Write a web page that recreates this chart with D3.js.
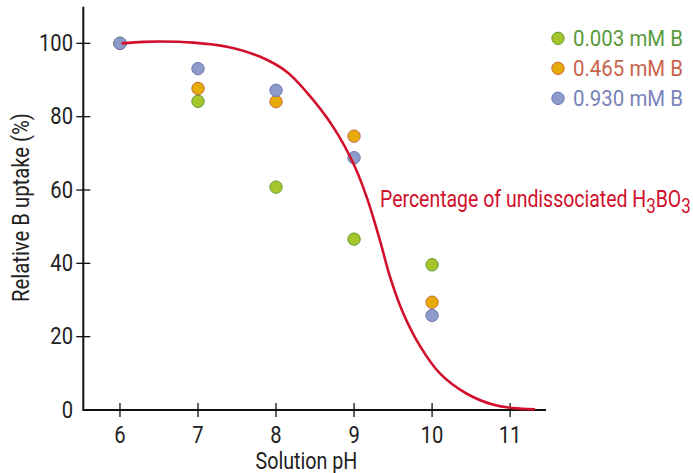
<!DOCTYPE html>
<html><head><meta charset="utf-8">
<script src="https://cdn.jsdelivr.net/npm/d3@7"></script>
<style>
body{margin:0;background:#fff;}
svg text{font-family:Roboto,"Noto Sans",sans-serif;font-weight:400;}
</style></head>
<body><svg id="c" width="693" height="473"></svg>
<script>
const xTicks = [6,7,8,9,10,11];
const yTicks = [0,20,40,60,80,100];
const seriesNames = ["0.003 mM B","0.465 mM B","0.930 mM B"];
const phValues = [6,7,8,9,10];
const lowB = [100,84.2,60.8,46.6,39.6];
const midB = [100,87.7,84.1,74.7,29.4];
const highB = [100,93.1,87.2,68.8,25.8];
const curvePH = [6.02,6.30,6.51,6.94,7.37,7.79,8.14,8.40,8.73,8.99,9.16,9.33,9.46,9.63,9.85,10.10,10.44,10.79,11.04,11.32];
const curveValue = [100,100.4,100.5,100.2,99.1,96.4,92.2,86.5,77.3,67.3,58.2,46.4,36.4,26.4,17.3,10.0,4.5,1.4,0.5,0.2];
const curveLabel = "Percentage of undissociated H";

const fills = ["#a6c52a","#e6ac0a","#8e9ccc"];
const strokes = ["#5f9a36","#c9683a","#6a78b4"];
const textCols = ["#5a9a3c","#c8644a","#7a82ba"];
const red = "#d2102c";
const FS = 23;

const svg = d3.select("#c");
const x = d3.scaleLinear().domain([5.53,11.46]).range([83.3,546]);
const y = d3.scaleLinear().domain([0,110]).range([410,6.7]);

function squeeze(sel, x0, s){ sel.attr("transform",`translate(${x0},0) scale(${s},1) translate(${-x0},0)`); }
function fitW(sel, x0, w){ const bw = sel.node().getBBox().width; squeeze(sel, x0, w/bw); return w/bw; }

// axes
const ax = svg.append("g").attr("stroke","#111").attr("stroke-width",2);
ax.append("line").attr("x1",x(5.53)).attr("x2",x(5.53)).attr("y1",y(110)).attr("y2",y(0)-1);
ax.append("line").attr("x1",x(5.53)-1).attr("x2",x(11.46)).attr("y1",y(0)).attr("y2",y(0));
ax.selectAll(".xt").data(xTicks).enter().append("line")
  .attr("x1",d=>x(d)).attr("x2",d=>x(d)).attr("y1",y(0)-7).attr("y2",y(0)+7).attr("stroke-width",1.3);
ax.selectAll(".yt").data(yTicks.filter(d=>d>0)).enter().append("line")
  .attr("x1",x(5.53)-7).attr("x2",x(5.53)+7).attr("y1",d=>y(d)).attr("y2",d=>y(d)).attr("stroke-width",1.3);

const yl = svg.selectAll(".yl").data(yTicks).enter().append("text")
  .attr("x",73).attr("y",d=>y(d)+7.7).attr("text-anchor","end")
  .attr("font-size",FS).attr("fill","#222").text(d=>d);
const s100 = 34 / yl.filter(d=>d===100).node().getBBox().width;
yl.each(function(){ squeeze(d3.select(this),73,s100); });
svg.selectAll(".xl").data(xTicks).enter().append("text")
  .attr("x",d=>x(d)).attr("y",443).attr("text-anchor","middle")
  .attr("font-size",FS).attr("fill","#222").text(d=>d)
  .each(function(d){ squeeze(d3.select(this),x(d),s100); });

const xt = svg.append("text").attr("x",x(8.39)).attr("y",469).attr("text-anchor","middle")
  .attr("font-size",FS).attr("fill","#222").text("Solution pH");
fitW(xt, x(8.39), 102);
const yt = svg.append("text").attr("x",0).attr("y",0).attr("text-anchor","middle")
  .attr("font-size",FS).attr("fill","#222").text("Relative B uptake (%)");
const sy = 189 / yt.node().getBBox().width;
yt.attr("transform",`translate(28.5,207.5) rotate(-90) scale(${sy},1)`);

// points
const series = [lowB, midB, highB];
series.forEach((vals,i)=>{
  svg.append("g").selectAll("circle").data(vals).enter().append("circle")
    .attr("cx",(d,j)=>x(phValues[j])).attr("cy",d=>y(d)).attr("r",6.2)
    .attr("fill",fills[i]).attr("stroke",strokes[i]).attr("stroke-width",1);
});

// curve
const line = d3.line().x((d,i)=>x(curvePH[i])).y(d=>y(d)).curve(d3.curveCatmullRom);
svg.append("path").datum(curveValue).attr("d",line).attr("fill","none")
  .attr("stroke",red).attr("stroke-width",2.6);

const lab = svg.append("text").attr("x",380).attr("y",207).attr("font-size",FS).attr("fill",red);
lab.append("tspan").text(curveLabel);
lab.append("tspan").attr("dy",6).attr("font-size",FS-3).text("3");
lab.append("tspan").attr("dy",-6).text("BO");
lab.append("tspan").attr("dy",6).attr("font-size",FS-3).text("3");
fitW(lab, 380, 311);

// legend
seriesNames.forEach((n,i)=>{
  const ly = 38.3 + i*30;
  svg.append("circle").attr("cx",558).attr("cy",ly).attr("r",6.2)
    .attr("fill",fills[i]).attr("stroke",strokes[i]).attr("stroke-width",1);
  const t = svg.append("text").attr("x",573).attr("y",ly+8).attr("font-size",FS)
    .attr("fill",textCols[i]).text(n);
  fitW(t, 573, 110);
});
</script></body></html>
